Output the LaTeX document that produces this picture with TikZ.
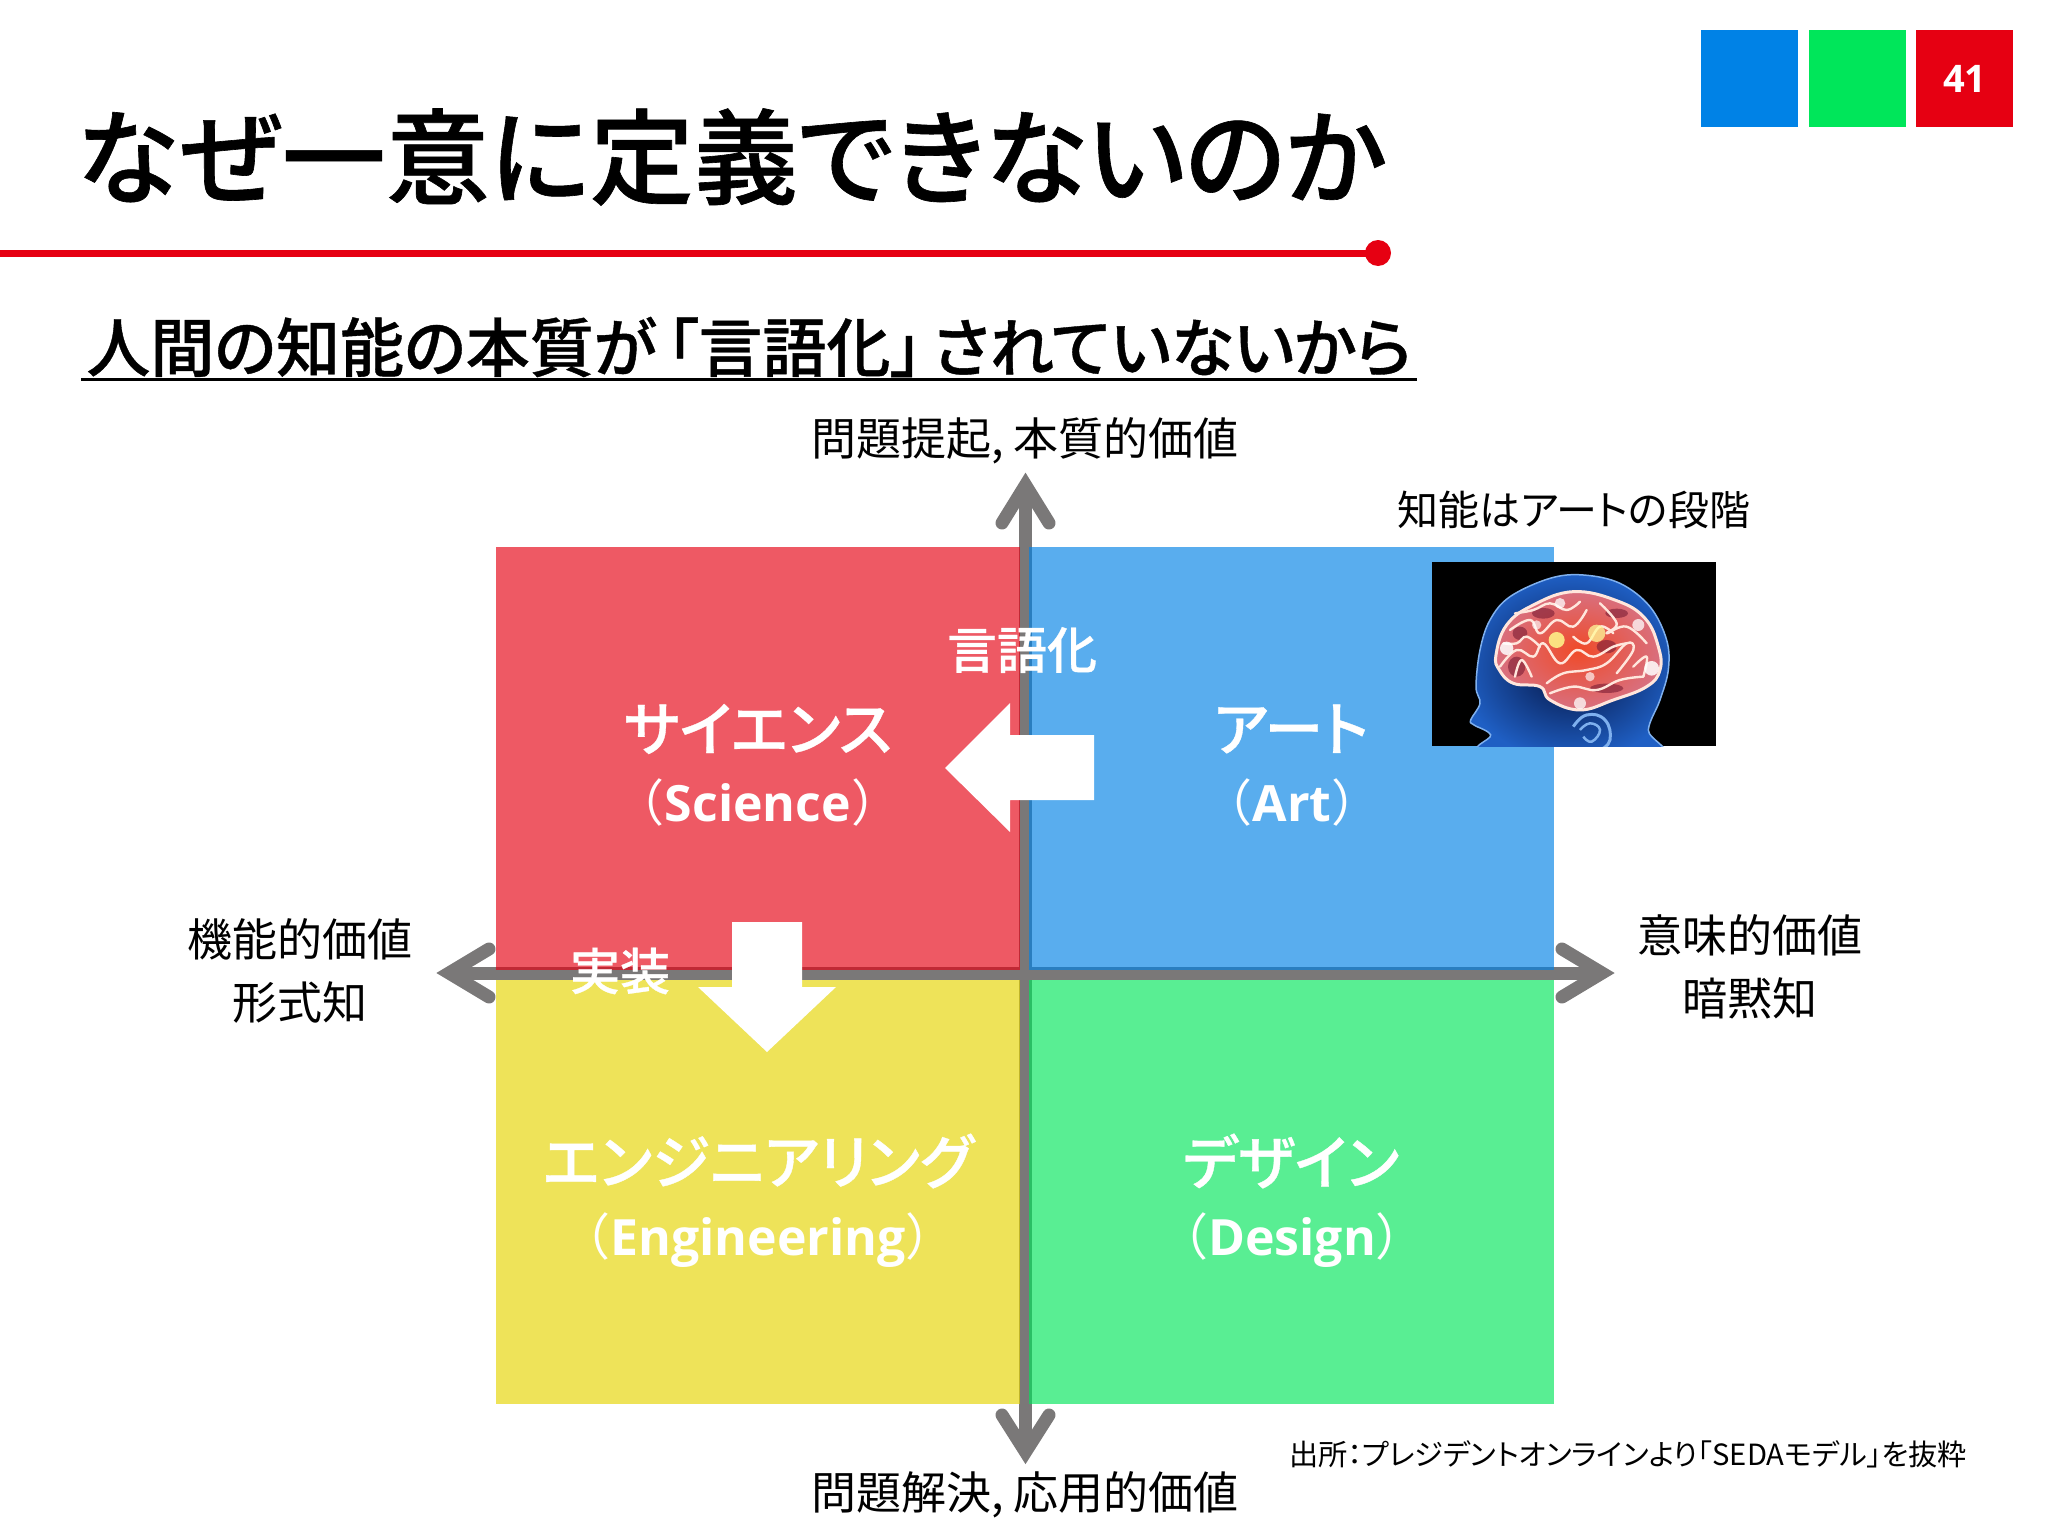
\documentclass[tikz,border=0pt]{standalone}
\usepackage{fontspec}
\setmainfont{Noto Sans CJK JP}
\newfontfamily\pal[RawFeature=+palt]{Noto Sans CJK JP}
\newfontfamily\med[RawFeature=+palt]{Noto Sans CJK JP Medium}
\newfontfamily\hvy[RawFeature=+palt,FakeBold=0.6]{Noto Sans CJK JP Medium}
\newfontfamily\ltn{Open Sans}
\definecolor{axisgray}{HTML}{7A7878}
\definecolor{pureblue}{HTML}{0082E6}
\definecolor{puregreen}{HTML}{00E65A}
\definecolor{purered}{HTML}{E60012}
\definecolor{pureyellow}{HTML}{E6D500}
\definecolor{headdark}{HTML}{04123F}
\definecolor{headlight}{HTML}{1F5FC4}
\definecolor{headedge}{HTML}{7FB0EE}
\definecolor{brainred}{HTML}{F04A28}
\definecolor{brainout}{HTML}{D87080}
\definecolor{brainfold}{HTML}{FFE6DC}
\definecolor{braindark}{HTML}{7A1C34}
\newcommand{\fsz}[1]{\fontsize{#1}{#1}\selectfont}
\tikzset{
  quad/.style={opacity=.65,draw=none},
  axisline/.style={draw=axisgray,line width=13pt},
  axishead/.style={draw=axisgray,line width=13pt,line cap=round,miter limit=10},
  lab/.style={text=black,inner sep=0pt,font=\pal\fsz{45}},
  big/.style={text=white,inner sep=0pt,font=\hvy\fsz{59}},
  sub/.style={text=white,inner sep=0pt,font=\fsz{50}},
  wlab/.style={text=white,inner sep=0pt,font=\hvy\fsz{50}},
  wblock/.style={fill=white,draw=none},
  tab/.style={draw=none,minimum size=97pt,inner sep=0pt},
  fold/.style={draw=#1,line width=2.4pt,line cap=round,line join=round},
}
\begin{document}
\begin{tikzpicture}[x=1pt,y=-1pt]
\useasboundingbox (0,0) rectangle (2048,1536);
\fill[white] (0,0) rectangle (2048,1536);

% corner tabs
\node[tab,fill=pureblue,anchor=north west] (tabA) at (1701,30) {};
\node[tab,fill=puregreen,anchor=north west] (tabB) at (1809,30) {};
\node[tab,fill=purered,anchor=north west,text=white,font=\ltn\fsz{38}\bfseries] (tabC) at (1916,30) {41};

% title and rule
\node[anchor=center,inner sep=0pt,font=\hvy\fsz{104}] (title) at (731,157) {なぜ一意に定義できないのか};
\coordinate (ruleA) at (0,253);
\coordinate (ruleB) at (1378,253);
\draw[purered,line width=7pt] (ruleA) -- (ruleB);
\fill[purered] (ruleB) circle (13);

% subtitle
\node[inner sep=0pt,font=\hvy\fsz{64}] (subtitle) at (749,347) {人間の知能の本質が\hspace{10pt}「言語化」\hspace{10pt}されていないから};
\coordinate (ulA) at (81,379);
\coordinate (ulB) at (1417,379);
\draw[black,line width=3pt] (ulA) -- (ulB);

% axes
\coordinate (axT) at (1025.5,485);
\coordinate (axB) at (1025.5,1452);
\coordinate (axL) at (449,973);
\coordinate (axR) at (1602,973);
\draw[axisline] (axT) -- (axB);
\draw[axisline] (axL) -- (axR);
\draw[axishead] (1002,523) -- (axT) -- (1049,523);
\draw[axishead] (1002,1415) -- (axB) -- (1049,1415);
\draw[axishead] (489,949) -- (axL) -- (489,997);
\draw[axishead] (1562,949) -- (axR) -- (1562,997);

% quadrants
\fill[quad,purered] (496,547) rectangle (1020,970);
\fill[quad,pureblue] (1029,547) rectangle (1554,970);
\fill[quad,pureyellow] (496,980) rectangle (1020,1404);
\fill[quad,puregreen] (1029,980) rectangle (1554,1404);

% brain picture
\begin{scope}[shift={(1400,470)},x=0.3333pt,y=-0.3333pt]
  \fill[black] (96,275) rectangle (947,829);
  \begin{scope}
    \clip (96,275) rectangle (947,829);
    \shade[inner color=headdark,outer color=headlight,draw=headedge,line width=1.5pt]
      plot[smooth cycle,tension=.6] coordinates {(262,850) (272,795) (222,765) (212,750) (240,700) (228,650) (240,540) (270,450) (330,380) (450,325) (550,315) (660,340) (750,410) (800,510) (805,600) (780,690) (745,780) (765,860)};
    \shade[inner color=brainred,outer color=brainout,draw=brainfold,line width=3pt]
      plot[smooth cycle,tension=.7] coordinates {(288,555) (320,465) (400,405) (520,365) (650,392) (735,445) (775,530) (780,600) (740,650) (640,690) (540,720) (450,690) (420,650) (340,640) (298,600)};
    \fill[braindark,opacity=.6] (430,430) ellipse (34 and 16);
    \fill[braindark,opacity=.6] (650,430) ellipse (34 and 14);
    \fill[braindark,opacity=.6] (350,590) ellipse (26 and 30);
    \fill[braindark,opacity=.6] (620,655) ellipse (50 and 14);
    \fill[braindark,opacity=.6] (620,530) ellipse (30 and 20);
    \fill[braindark,opacity=.6] (360,490) ellipse (22 and 20);
    \draw[fold=brainfold] plot[smooth,tension=.7] coordinates {(330,480) (390,450) (420,490) (470,450) (520,470) (560,420)};
    \draw[fold=brainfold] plot[smooth,tension=.7] coordinates {(345,430) (400,420) (450,400) (500,420) (540,395)};
    \draw[fold=brainfold] plot[smooth,tension=.7] coordinates {(300,590) (350,540) (400,560) (430,520) (480,580) (530,540) (580,560) (640,530) (680,520)};
    \draw[fold=brainfold] plot[smooth,tension=.7] coordinates {(440,640) (490,610) (560,600) (620,580) (680,520) (700,540) (650,610)};
    \draw[fold=brainfold] plot[smooth,tension=.7] coordinates {(600,400) (650,460) (620,490) (680,470) (740,520)};
    \draw[fold=brainfold] plot[smooth,tension=.7] coordinates {(450,670) (520,650) (590,660) (660,630) (730,620)};
    \draw[fold=brainfold] plot[smooth,tension=.7] coordinates {(345,620) (365,570) (395,620)};
    \draw[fold=brainfold] plot[smooth,tension=.7] coordinates {(700,590) (740,560) (730,620)};
    \draw[fold=brainfold] plot[smooth,tension=.7] coordinates {(520,500) (560,520) (600,470) (640,490)};
    \draw[fold=brainfold] plot[smooth,tension=.7] coordinates {(310,520) (350,520) (380,500) (420,530)};
    \fill[yellow!45!white,opacity=.85] (470,510) circle (24);
    \fill[yellow!40!white,opacity=.75] (590,490) circle (26);
    \fill[white,opacity=.85] (320,535) circle (20);
    \fill[white,opacity=.85] (755,595) circle (22);
    \fill[white,opacity=.75] (715,465) circle (18);
    \fill[white,opacity=.75] (480,400) circle (16);
    \fill[white,opacity=.75] (540,700) circle (18);
    \fill[white,opacity=.65] (410,465) circle (14);
    \fill[white,opacity=.65] (570,620) circle (14);
    \draw[draw=headedge,line width=3pt] plot[smooth,tension=.8] coordinates {(520,770) (560,735) (615,750) (630,810) (600,840)};
    \draw[draw=headedge,line width=2.5pt] plot[smooth,tension=.8] coordinates {(540,780) (570,760) (600,780) (575,815) (550,800)};
  \end{scope}
\end{scope}

% white arrows
\fill[wblock] (1094,735) -- (1010,735) -- (1010,703) -- (945,768) -- (1010,832) -- (1010,800) -- (1094,800) -- cycle;
\fill[wblock] (732,922) -- (802,922) -- (802,987) -- (836,987) -- (767,1052) -- (698,987) -- (732,987) -- cycle;

% quadrant labels
\node[big] (sci) at (758,729) {サイエンス};
\node[sub] (scie) at (758,802) {（{\ltn\bfseries Science}）};
\node[big] (art) at (1291,729) {アート};
\node[sub] (arte) at (1292,802) {（{\ltn\bfseries Art}）};
\node[big] (eng) at (758,1161) {エンジニアリング};
\node[sub] (enge) at (758,1240) {（{\ltn\bfseries Engineering}）};
\node[big] (des) at (1291,1161) {デザイン};
\node[sub] (dese) at (1292,1240) {（{\ltn\bfseries Design}）};
\node[wlab] (verbal) at (1022,650) {言語化};
\node[wlab] (impl) at (620,971) {実装};

% outer labels
\node[lab] (top) at (1025,441) {問題提起, 本質的価値};
\node[lab] (bot) at (1025,1495) {問題解決, 応用的価値};
\node[lab,font=\pal\fsz{41}] (stage) at (1574,510) {知能はアートの段階};
\node[lab] (lft1) at (300,939) {機能的価値};
\node[lab] (lft2) at (300,1003) {形式知};
\node[lab] (rgt1) at (1750,935) {意味的価値};
\node[lab] (rgt2) at (1750,998) {暗黙知};
\node[lab,font=\pal\fsz{29.2}] (src) at (1628,1454) {出所：プレジデントオンラインより「SEDAモデル」を抜粋};
\end{tikzpicture}
\end{document}
